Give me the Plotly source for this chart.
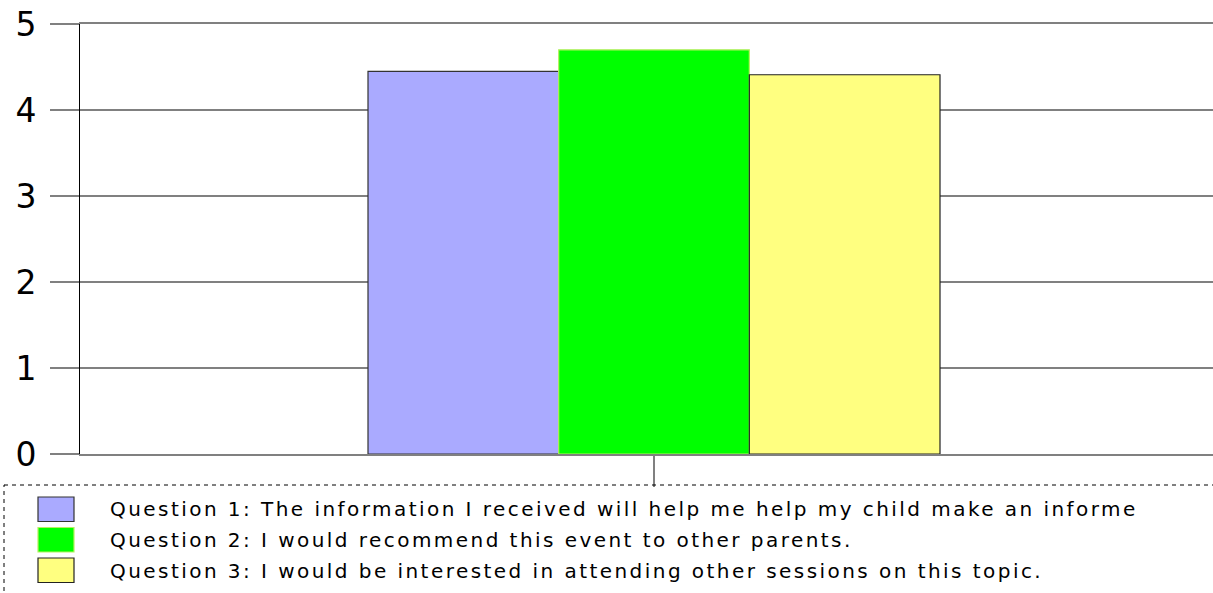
import plotly.graph_objects as go

# ---- data ----
categories = ["Responses"]
series_names = [
    "Question 1: The information I received will help me help my child make an informe",
    "Question 2: I would recommend this event to other parents.",
    "Question 3: I would be interested in attending other sessions on this topic.",
]
series_values = [[4.45], [4.70], [4.41]]
y_tick_vals = [0, 1, 2, 3, 4, 5]
y_tick_text = ["0", "1", "2", "3", "4", "5"]

fill_colors = ["#AAAAFF", "#00FF00", "#FFFF80"]
line_colors = ["#333333", "#B8F060", "#222222"]

W, H = 1213, 593
ML, MR, MT, MB = 80, 0, 24, 139
PW = W - ML - MR
PH = H - MT - MB


def px(x):
    return (x - ML) / PW


def py(y):
    return (H - MB - y) / PH


fig = go.Figure()
for name, vals, fc, lc in zip(series_names, series_values, fill_colors, line_colors):
    fig.add_trace(go.Bar(
        x=categories, y=vals, name=name,
        marker=dict(color=fc, line=dict(color=lc, width=1.2)),
        showlegend=False,
    ))

shapes = []
annotations = []
# dashed legend frame
shapes.append(dict(type="rect", xref="paper", yref="paper",
                   x0=px(4), x1=px(1240), y0=py(485), y1=py(610),
                   line=dict(color="black", width=1, dash="4px,4px"),
                   fillcolor="rgba(0,0,0,0)", layer="above"))
row_tops = [497, 527.5, 558]
for name, fc, lc, top in zip(series_names, fill_colors, line_colors, row_tops):
    shapes.append(dict(type="rect", xref="paper", yref="paper",
                       x0=px(38), x1=px(74), y0=py(top + 24.5), y1=py(top),
                       fillcolor=fc, line=dict(color=lc, width=1.2)))
    annotations.append(dict(xref="paper", yref="paper", x=px(108), y=py(top + 12.5),
                            xanchor="left", yanchor="middle",
                            text='<span style="letter-spacing:2.45px">' + name + "</span>",
                            showarrow=False,
                            font=dict(family="DejaVu Sans", size=20, color="black")))

unit_px = 715  # pixels per category unit
center_px = 654
fig.update_layout(
    width=W, height=H,
    margin=dict(l=ML, r=MR, t=MT, b=MB, pad=0),
    paper_bgcolor="white", plot_bgcolor="white",
    barmode="group", bargap=0.2, bargroupgap=0,
    shapes=shapes, annotations=annotations,
    font=dict(family="DejaVu Sans", color="black"),
    xaxis=dict(
        range=[(ML - center_px) / unit_px, (W - MR - center_px) / unit_px],
        showticklabels=False, ticks="outside", ticklen=31, tickcolor="#808080", tickwidth=1.5,
        showgrid=False, zeroline=False,
        showline=True, mirror=True, linecolor="#808080", linewidth=1.5,
        fixedrange=True,
    ),
    yaxis=dict(
        range=[0, 5], tickvals=y_tick_vals, ticktext=y_tick_text,
        showgrid=True, gridcolor="#808080", gridwidth=1.5,
        ticks="outside", ticklen=29, tickcolor="#808080", tickwidth=1.5,
        ticklabelstandoff=7,
        showline=True, linecolor="black", linewidth=1,
        zeroline=False,
        tickfont=dict(family="DejaVu Sans", size=33, color="black"),
    ),
)

fig.write_html("out.html")
